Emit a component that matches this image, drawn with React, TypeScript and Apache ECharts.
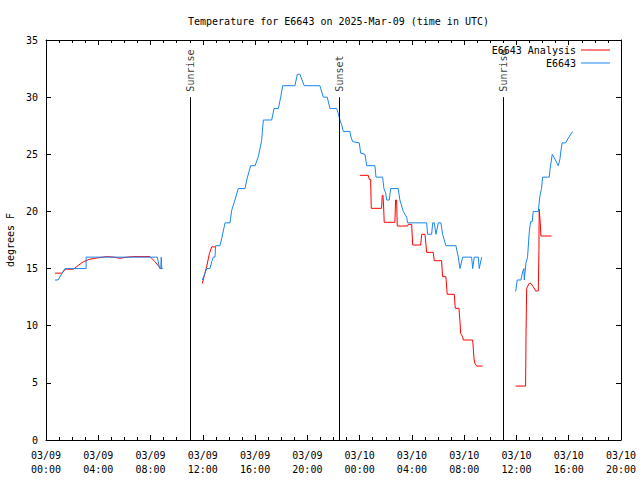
import React, { useEffect, useRef } from "react";
import * as echarts from "echarts";

// Hours since 2025-03-09 00:00 UTC
const obsHours: (number | null)[] = [
  0.69, 0.92, 1.45, 3.07, 3.07, 8.52, 8.7, 8.78, 8.82, 8.86, 8.92, null,
  11.96, 12.17, 12.3, 12.55, 12.68, 12.8, 12.93, 12.98, 13.31, 13.44, 13.7, 14.08, 14.21, 14.46, 14.71,
  15.23, 15.36, 15.66, 16.0, 16.25, 16.5, 16.63, 17.27, 17.45, 17.78, 17.96, 18.11, 19.05, 19.23, 19.43,
  19.76, 20.96, 21.22, 21.52, 21.73, 22.24, 22.36, 22.49, 22.62, 22.75, 23.26, 23.31, 23.47, 23.97, 24.08,
  24.41, 24.54, 25.17, 25.25, 25.76, 25.86, 25.99, 26.07, 26.27, 26.37, 26.95, 27.08, 27.34, 27.6, 27.67,
  29.13, 29.2, 29.51, 29.59, 29.71, 29.84, 30.02, 30.22, 30.35, 30.6, 31.37, 31.55, 31.68, 31.88, 32.57,
  32.65, 32.77, 33.08, 33.15, 33.34, null,
  35.94, 36.06, 36.34, 36.47, 36.57, 36.6, 36.73, 36.85, 36.98, 37.08, 37.21, 37.28, 37.67, 37.8, 37.92,
  38.0, 38.51, 38.56, 38.74, 38.89, 39.2, 39.33, 39.4, 39.5, 39.76, 39.96, 40.3,
];
const obsTemps: (number | null)[] = [
  14, 14, 15, 15, 16, 16, 15, 15, 16, 15, 15, null,
  14, 14.6, 15, 15, 15.6, 16, 16, 17, 17, 17.6, 19, 19, 20.1, 21, 22,
  22, 22.75, 24, 24, 24.8, 26.2, 28, 28, 29, 29, 30, 31, 31, 32, 32,
  31, 31, 30, 30, 29, 29, 28.6, 28, 27.6, 27, 27, 26.6, 26.1, 26, 25.1,
  25, 24, 24, 23, 23, 22, 21.6, 21, 21, 22, 22, 21, 20, 19.5, 19,
  19, 18, 18, 19, 19, 18, 19, 19, 18, 17, 17, 16, 15, 16, 16,
  15, 16, 16, 15, 16, null,
  13, 14, 14, 14.7, 15, 14, 15.5, 16, 18.2, 19.1, 19.1, 20, 20, 21.4, 22,
  23, 23, 23.6, 25, 24.7, 24, 24.6, 25.3, 26, 26, 26.4, 27,
];

const anaHours: (number | null)[] = [
  0.69, 1.2, 1.5, 2.1, 2.5, 2.86, 3.3, 3.75, 4.64, 5.2, 5.66, 6.2, 6.68, 7.96, 8.34, 8.77, 8.9, null,
  11.96, 12.3, 12.5, 12.68, 12.93, null,
  24.02, 24.66, 24.74, 24.84, 24.89, 25.68, 25.73, 25.79, 25.84, 25.88, 26.7, 26.75, 26.83, 26.88, 27.67,
  27.72, 27.98, 28.06, 28.67, 28.75, 29.0, 29.13, 29.63, 29.71, 30.27, 30.35, 30.6, 30.7, 31.24, 31.32,
  31.6, 31.68, 31.73, 31.88, 31.93, 32.65, 32.75, 32.82, 32.95, 33.41, null,
  35.94, 36.7, 36.73, 36.78, 36.98, 37.1, 37.28, 37.47, 37.67, 37.72, 37.74, 37.78, 37.82, 37.87, 38.69,
];
const anaTemps: (number | null)[] = [
  14.6, 14.6, 14.95, 14.95, 15.3, 15.6, 15.8, 15.9, 16.05, 16.0, 15.9, 16.0, 16.05, 16.05, 15.6, 15.0, 15.0, null,
  13.7, 15.2, 16.3, 16.9, 16.9, null,
  23.16, 23.16, 22.8, 22.8, 20.27, 20.27, 21.4, 21.4, 20.3, 19.05, 19.05, 21.0, 21.0, 18.72, 18.72,
  18.87, 18.87, 17.06, 17.06, 18, 18, 16.42, 16.42, 15.69, 15.69, 14.29, 14.29, 12.75, 12.75, 11.52,
  11.52, 10.35, 9.33, 9.04, 8.75, 8.75, 7.15, 6.71, 6.47, 6.47, null,
  4.72, 4.72, 9, 13.27, 13.71, 13.71, 13.41, 13.04, 13.04, 16.6, 20.2, 20.2, 19, 17.85, 17.85,
];

const eventHours = [11.05, 22.43, 35.0];
const eventNames = ["Sunrise", "Sunset", "Sunrise"];
const eventTop = 30;

const xMin = 0;
const xMax = 44;
const xInterval = 4;
const yMin = 0;
const yMax = 35;
const yInterval = 5;

const FONT = "DejaVu Sans Mono";

function zip(hs: (number | null)[], ts: (number | null)[]) {
  return hs.map((h, i) => (h === null || ts[i] === null ? ["-", "-"] : [h, ts[i]]));
}

function pad(n: number) {
  return n < 10 ? "0" + n : "" + n;
}

function fmtX(v: number) {
  const day = 9 + Math.floor(v / 24);
  const hr = Math.round(v % 24);
  return "03/" + pad(day) + "\n" + pad(hr) + ":00";
}

export default function App() {
  const ref = useRef<HTMLDivElement>(null);
  useEffect(() => {
    if (!ref.current) return;
    const chart = echarts.init(ref.current, null, { renderer: "svg" });
    const tickX = {
      show: true,
      inside: true,
      length: 5,
      lineStyle: { color: "#000", width: 1 },
    };
    const minorX = {
      show: true,
      splitNumber: 4,
      length: 3,
      lineStyle: { color: "#000", width: 1 },
    };
    const axisLine = { show: true, onZero: false, lineStyle: { color: "#000", width: 1 } };
    const legendCommon = {
      right: 30,
      align: "right",
      padding: 0,
      itemWidth: 29,
      itemHeight: 1,
      icon: "rect",
      textStyle: { fontFamily: FONT, fontSize: 10, color: "#000" },
    };
    chart.setOption({
      animation: false,
      backgroundColor: "#fff",
      title: {
        text: "Temperature for E6643 on 2025-Mar-09 (time in UTC)",
        left: 333.5,
        textAlign: "center",
        top: 11,
        textStyle: { fontFamily: FONT, fontSize: 10, fontWeight: "normal", color: "#000" },
      },
      legend: [
        { ...legendCommon, data: ["E6643 Analysis"], top: 45 },
        { ...legendCommon, data: ["E6643"], top: 58 },
      ],
      grid: {
        left: 46,
        right: 19,
        top: 40,
        bottom: 40,
        containLabel: false,
        outerBoundsMode: "none",
      },
      xAxis: [
        {
          type: "value",
          min: xMin,
          max: xMax,
          interval: xInterval,
          position: "bottom",
          axisLine,
          axisTick: tickX,
          minorTick: minorX,
          splitLine: { show: false },
          axisLabel: {
            formatter: fmtX,
            fontFamily: FONT,
            fontSize: 10,
            color: "#000",
            lineHeight: 14,
            margin: 8,
            showMinLabel: true,
            showMaxLabel: true,
          },
        },
        {
          type: "value",
          min: xMin,
          max: xMax,
          interval: xInterval,
          position: "top",
          axisLine,
          axisTick: tickX,
          minorTick: minorX,
          splitLine: { show: false },
          axisLabel: { show: false },
        },
      ],
      yAxis: [
        {
          type: "value",
          min: yMin,
          max: yMax,
          interval: yInterval,
          position: "left",
          name: "degrees F",
          nameLocation: "middle",
          nameGap: 30,
          nameTextStyle: { fontFamily: FONT, fontSize: 10, color: "#000" },
          axisLine,
          axisTick: { show: true, inside: true, length: 5, lineStyle: { color: "#000" } },
          splitLine: { show: false },
          axisLabel: { fontFamily: FONT, fontSize: 10, color: "#000", margin: 8 },
        },
        {
          type: "value",
          min: yMin,
          max: yMax,
          interval: yInterval,
          position: "right",
          axisLine,
          axisTick: { show: true, inside: true, length: 5, lineStyle: { color: "#000" } },
          splitLine: { show: false },
          axisLabel: { show: false },
        },
      ],
      series: [
        {
          name: "E6643 Analysis",
          type: "line",
          data: zip(anaHours, anaTemps),
          symbol: "none",
          connectNulls: false,
          lineStyle: { color: "#ff0000", width: 1 },
          itemStyle: { color: "#ff0000" },
        },
        {
          name: "E6643",
          type: "line",
          data: zip(obsHours, obsTemps),
          symbol: "none",
          connectNulls: false,
          lineStyle: { color: "#1a85f0", width: 1 },
          itemStyle: { color: "#1a85f0" },
        },
        {
          name: "events",
          type: "scatter",
          data: eventHours.map((h, i) => ({ value: [h, eventTop], name: eventNames[i] })),
          symbol: "circle",
          symbolSize: 1,
          itemStyle: { color: "rgba(0,0,0,0)" },
          label: {
            show: true,
            formatter: (p: any) => p.name,
            position: "top",
            distance: 5,
            rotate: 90,
            align: "left",
            verticalAlign: "middle",
            fontFamily: FONT,
            fontSize: 10,
            color: "#000",
          },
          markLine: {
            silent: true,
            symbol: "none",
            label: { show: false },
            lineStyle: { color: "#000", width: 1, type: "solid" },
            data: eventHours.map((h) => [{ coord: [h, yMin] }, { coord: [h, eventTop] }]),
          },
        },
      ],
    });
    return () => chart.dispose();
  }, []);
  return (
    <div
      ref={ref}
      style={{ position: "fixed", left: 0, top: 0, width: 640, height: 480 }}
    />
  );
}
